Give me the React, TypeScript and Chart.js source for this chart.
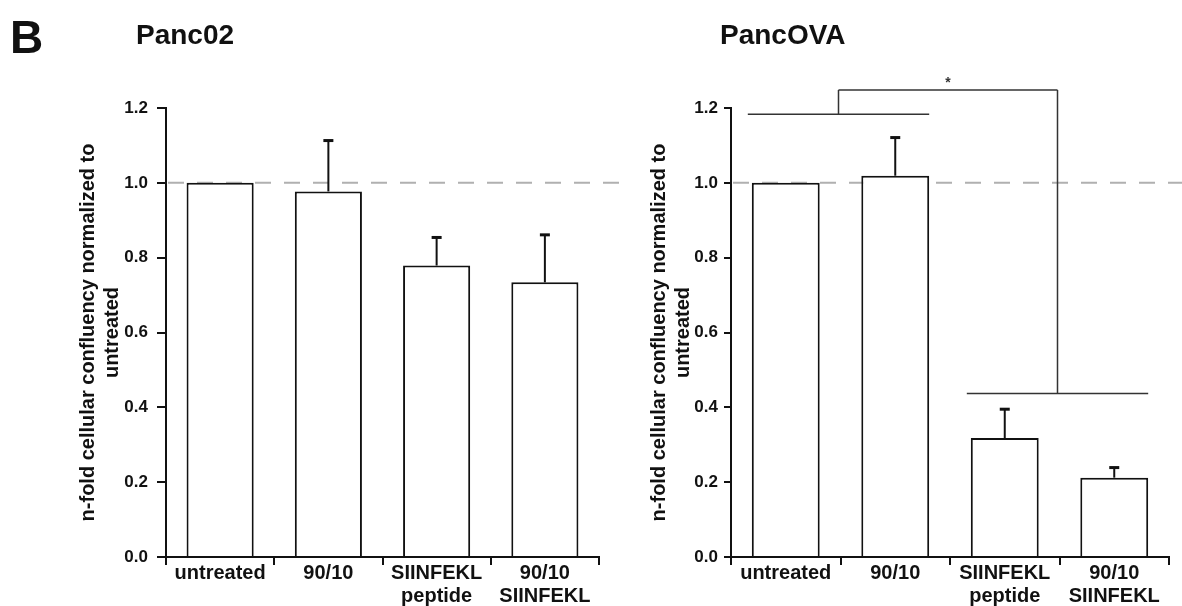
import React, { useEffect, useRef } from "react";
import { Chart, registerables } from "chart.js";

Chart.register(...registerables);

// ---- data ----
const categories: string[][] = [["untreated"], ["90/10"], ["SIINFEKL", "peptide"], ["90/10", "SIINFEKL"]];
const panc02Mean = [1.0, 0.977, 0.779, 0.734];
const panc02Sd = [0, 0.136, 0.075, 0.127];
const pancOvaMean = [1.0, 1.019, 0.318, 0.212];
const pancOvaSd = [0, 0.102, 0.077, 0.027];
const yTicks = [0, 0.2, 0.4, 0.6, 0.8, 1.0, 1.2];
const referenceLevel = [1.0];
const sigGroups = [[0, 1], [2, 3]];
const sigGroupLevels = [1.183, 0.437];
const sigConnectorLevel = [1.248];
const sigLabel = ["*"];
const yTitle = ["n-fold cellular confluency normalized to", "untreated"];
const panelTitles = ["Panc02", "PancOVA"];
const panelLetter = ["B"];

const FONT = "'Liberation Sans', Arial, Helvetica, sans-serif";
const INK = "#111";

function refLinePlugin(ext: number) {
  return {
    id: "refLine",
    beforeDatasetsDraw(chart: any) {
      const { ctx, chartArea, scales } = chart;
      const py = scales.y.getPixelForValue(referenceLevel[0]);
      ctx.save();
      ctx.strokeStyle = "#b0b0b0";
      ctx.lineWidth = 2;
      ctx.setLineDash([16, 13]);
      ctx.beginPath();
      ctx.moveTo(chartArea.left + 2, py);
      ctx.lineTo(chartArea.right + ext, py);
      ctx.stroke();
      ctx.restore();
    },
  };
}

const errorBarPlugin = {
  id: "errorBars",
  afterDatasetsDraw(chart: any) {
    const { ctx, scales } = chart;
    const meta = chart.getDatasetMeta(0);
    const ds: any = chart.data.datasets[0];
    meta.data.forEach((bar: any, i: number) => {
      const sd = ds.sd[i];
      if (!sd) return;
      const top = scales.y.getPixelForValue(ds.data[i] + sd);
      ctx.save();
      ctx.strokeStyle = INK;
      ctx.lineWidth = 2;
      ctx.beginPath();
      ctx.moveTo(bar.x, bar.y);
      ctx.lineTo(bar.x, top);
      ctx.stroke();
      ctx.lineWidth = 3;
      ctx.beginPath();
      ctx.moveTo(bar.x - 5, top);
      ctx.lineTo(bar.x + 5, top);
      ctx.stroke();
      ctx.restore();
    });
  },
};

const bracketPlugin = {
  id: "brackets",
  afterDraw(chart: any) {
    const { ctx, scales } = chart;
    const meta = chart.getDatasetMeta(0);
    const cy = scales.y.getPixelForValue(sigConnectorLevel[0]);
    const mids: number[] = [];
    ctx.save();
    ctx.strokeStyle = "#333";
    ctx.lineWidth = 1.5;
    sigGroups.forEach((g, k) => {
      const a = meta.data[g[0]];
      const b = meta.data[g[1]];
      const l = a.x - a.width / 2 - 4;
      const r = b.x + b.width / 2;
      const py = scales.y.getPixelForValue(sigGroupLevels[k]);
      const mid = (l + r) / 2;
      mids.push(mid);
      ctx.beginPath();
      ctx.moveTo(l, py);
      ctx.lineTo(r, py);
      ctx.moveTo(mid, py);
      ctx.lineTo(mid, cy);
      ctx.stroke();
    });
    ctx.beginPath();
    ctx.moveTo(mids[0], cy);
    ctx.lineTo(mids[1], cy);
    ctx.stroke();
    ctx.fillStyle = "#333";
    ctx.font = `bold 14px ${FONT}`;
    ctx.textAlign = "center";
    ctx.textBaseline = "alphabetic";
    ctx.fillText(sigLabel[0], (mids[0] + mids[1]) / 2, cy - 3);
    ctx.restore();
  },
};

type PanelOpts = {
  yWidth: number;
  titlePad: number;
  padRight: number;
  dashExt: number;
  yTickLen: number;
  yTickPad: number;
  brackets: boolean;
};

function makeConfig(means: number[], sds: number[], o: PanelOpts): any {
  return {
    type: "bar",
    data: {
      labels: categories,
      datasets: [
        {
          data: means,
          sd: sds,
          backgroundColor: "#ffffff",
          borderColor: INK,
          borderWidth: 2,
          barPercentage: 0.62,
          categoryPercentage: 1,
        },
      ],
    },
    options: {
      responsive: false,
      animation: false,
      devicePixelRatio: 1,
      layout: { padding: { top: 108, right: o.padRight, left: 0, bottom: 0 } },
      plugins: {
        legend: { display: false },
        tooltip: { enabled: false },
        title: { display: false },
      },
      scales: {
        x: {
          type: "category",
          offset: true,
          grid: {
            display: true,
            offset: true,
            drawOnChartArea: false,
            drawTicks: true,
            tickLength: 8,
            color: INK,
            lineWidth: 2,
          },
          border: { display: true, color: INK, width: 2 },
          ticks: {
            color: INK,
            font: { family: FONT, size: 20, weight: "bold", lineHeight: 1.15 },
            padding: -3,
            maxRotation: 0,
            autoSkip: false,
          },
          afterFit: (s: any) => {
            s.height = 49;
          },
        },
        y: {
          type: "linear",
          min: 0,
          max: 1.2,
          afterBuildTicks: (s: any) => {
            s.ticks = yTicks.map((v) => ({ value: v }));
          },
          ticks: {
            color: INK,
            font: { family: FONT, size: 17, weight: "bold" },
            padding: o.yTickPad,
            callback: (v: any) => Number(v).toFixed(1),
          },
          grid: {
            drawOnChartArea: false,
            drawTicks: true,
            tickLength: o.yTickLen,
            color: INK,
            lineWidth: 2,
          },
          border: { display: true, color: INK, width: 2 },
          title: {
            display: true,
            text: yTitle,
            color: INK,
            font: { family: FONT, size: 20, weight: "bold", lineHeight: 1.2 },
            padding: { top: o.titlePad, bottom: 0 },
          },
          afterFit: (s: any) => {
            s.width = o.yWidth;
          },
        },
      },
    },
    plugins: [refLinePlugin(o.dashExt), errorBarPlugin, ...(o.brackets ? [bracketPlugin] : [])],
  };
}

function Panel(props: { means: number[]; sds: number[]; left: number; width: number; opts: PanelOpts }) {
  const ref = useRef<HTMLCanvasElement>(null);
  useEffect(() => {
    const chart = new Chart(ref.current as HTMLCanvasElement, makeConfig(props.means, props.sds, props.opts));
    return () => chart.destroy();
  }, []);
  return (
    <canvas
      ref={ref}
      width={props.width}
      height={606}
      style={{ position: "absolute", left: props.left, top: 0, width: props.width, height: 606, display: "block" }}
    />
  );
}

const textStyle: React.CSSProperties = {
  position: "absolute",
  fontFamily: FONT,
  fontWeight: "bold",
  color: INK,
  lineHeight: 1,
  whiteSpace: "nowrap",
};

export default function App() {
  return (
    <div style={{ position: "absolute", left: 0, top: 0, width: 1182, height: 606, background: "#fff", overflow: "hidden" }}>
      <Panel
        means={panc02Mean}
        sds={panc02Sd}
        left={0}
        width={640}
        opts={{ yWidth: 166, titlePad: 76, padRight: 41, dashExt: 21, yTickLen: 9, yTickPad: 9, brackets: false }}
      />
      <Panel
        means={pancOvaMean}
        sds={pancOvaSd}
        left={640}
        width={542}
        opts={{ yWidth: 91, titlePad: 7, padRight: 13, dashExt: 13, yTickLen: 7, yTickPad: 6, brackets: true }}
      />
      <div style={{ ...textStyle, left: 10, top: 14, fontSize: 46 }}>{panelLetter[0]}</div>
      <div style={{ ...textStyle, left: 136, top: 21, fontSize: 28 }}>{panelTitles[0]}</div>
      <div style={{ ...textStyle, left: 720, top: 21, fontSize: 28 }}>{panelTitles[1]}</div>
    </div>
  );
}
